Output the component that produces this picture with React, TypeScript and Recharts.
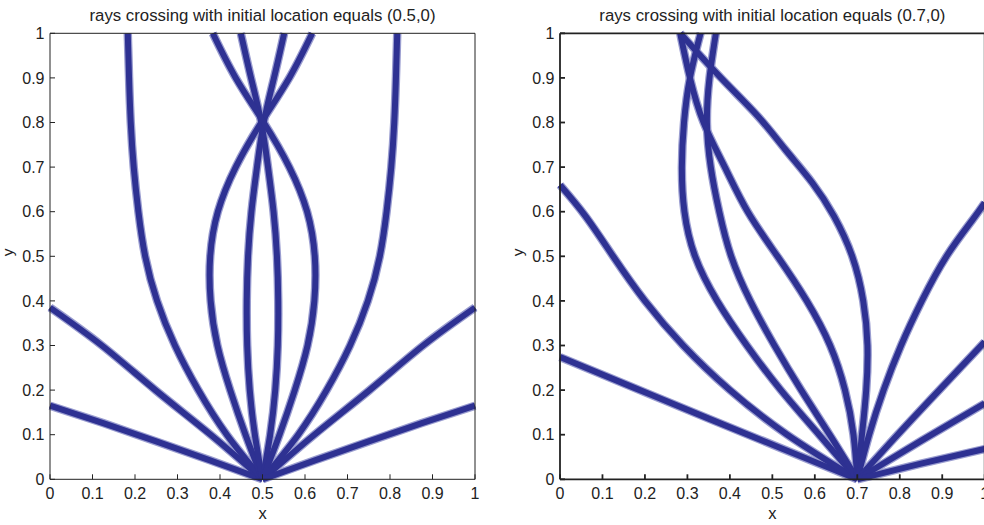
import React from 'react';
import { LineChart, Line, XAxis, YAxis } from 'recharts';

type Pt = { x: number; y: number };

const axisTicks = [0, 0.1, 0.2, 0.3, 0.4, 0.5, 0.6, 0.7, 0.8, 0.9, 1];
const leftTitle = 'rays crossing with initial location equals (0.5,0)';
const rightTitle = 'rays crossing with initial location equals (0.7,0)';

const p = (x: number, y: number): Pt => ({ x, y });

// Left panel: rays from (0.5, 0)
const leftRay1 = [p(0.5, 0), p(0.375, 0.043), p(0.25, 0.085), p(0.125, 0.126), p(0, 0.165)];
const leftRay2 = [p(0.5, 0), p(0.378, 0.1), p(0.248, 0.2), p(0.122, 0.3), p(0, 0.385)];
const leftRay3 = [p(0.5, 0), p(0.416, 0.1), p(0.349, 0.2), p(0.294, 0.3), p(0.252, 0.4), p(0.224, 0.5), p(0.208, 0.6), p(0.197, 0.7), p(0.19, 0.8), p(0.186, 0.9), p(0.183, 1)];
const leftRay4 = [p(0.5, 0), p(0.46, 0.1), p(0.424, 0.2), p(0.394, 0.3), p(0.378, 0.4), p(0.377, 0.5), p(0.395, 0.6), p(0.437, 0.7), p(0.497, 0.8), p(0.563, 0.9), p(0.617, 1)];
const leftRay5 = [p(0.5, 0), p(0.482, 0.1), p(0.47, 0.2), p(0.464, 0.3), p(0.463, 0.4), p(0.466, 0.5), p(0.474, 0.6), p(0.487, 0.7), p(0.503, 0.8), p(0.527, 0.9), p(0.551, 1)];
const leftRay6 = [p(0.5, 0), p(0.518, 0.1), p(0.53, 0.2), p(0.536, 0.3), p(0.537, 0.4), p(0.534, 0.5), p(0.526, 0.6), p(0.513, 0.7), p(0.497, 0.8), p(0.473, 0.9), p(0.449, 1)];
const leftRay7 = [p(0.5, 0), p(0.54, 0.1), p(0.576, 0.2), p(0.606, 0.3), p(0.622, 0.4), p(0.623, 0.5), p(0.605, 0.6), p(0.563, 0.7), p(0.503, 0.8), p(0.437, 0.9), p(0.383, 1)];
const leftRay8 = [p(0.5, 0), p(0.584, 0.1), p(0.651, 0.2), p(0.706, 0.3), p(0.748, 0.4), p(0.776, 0.5), p(0.792, 0.6), p(0.803, 0.7), p(0.81, 0.8), p(0.814, 0.9), p(0.817, 1)];
const leftRay9 = [p(0.5, 0), p(0.622, 0.1), p(0.752, 0.2), p(0.878, 0.3), p(1, 0.385)];
const leftRay10 = [p(0.5, 0), p(0.625, 0.043), p(0.75, 0.085), p(0.875, 0.126), p(1, 0.165)];

// Right panel: rays from (0.7, 0)
const rightRay1 = [p(0.7, 0), p(0.525, 0.068), p(0.35, 0.136), p(0.175, 0.205), p(0, 0.274)];
const rightRay2 = [p(0.7, 0), p(0.535, 0.1), p(0.4, 0.2), p(0.29, 0.3), p(0.2, 0.4), p(0.125, 0.5), p(0.06, 0.59), p(0, 0.66)];
const rightRay3 = [p(0.7, 0), p(0.61, 0.1), p(0.52, 0.2), p(0.44, 0.3), p(0.37, 0.4), p(0.318, 0.5), p(0.293, 0.6), p(0.287, 0.7), p(0.292, 0.8), p(0.306, 0.9), p(0.331, 1)];
const rightRay4 = [p(0.7, 0), p(0.635, 0.1), p(0.568, 0.2), p(0.505, 0.3), p(0.448, 0.4), p(0.403, 0.5), p(0.375, 0.6), p(0.355, 0.7), p(0.346, 0.8), p(0.352, 0.9), p(0.367, 1)];
const rightRay5 = [p(0.7, 0), p(0.691, 0.1), p(0.671, 0.2), p(0.636, 0.3), p(0.581, 0.4), p(0.512, 0.5), p(0.442, 0.6), p(0.388, 0.7), p(0.338, 0.8), p(0.306, 0.9), p(0.283, 1)];
const rightRay6 = [p(0.7, 0), p(0.711, 0.1), p(0.721, 0.2), p(0.724, 0.3), p(0.714, 0.4), p(0.688, 0.5), p(0.645, 0.59), p(0.594, 0.665), p(0.53, 0.74), p(0.465, 0.815), p(0.379, 0.9), p(0.283, 1)];
const rightRay7 = [p(0.7, 0), p(0.728, 0.1), p(0.762, 0.2), p(0.803, 0.3), p(0.852, 0.4), p(0.91, 0.5), p(0.97, 0.58), p(1, 0.62)];
const rightRay8 = [p(0.7, 0), p(0.795, 0.1), p(0.893, 0.2), p(1, 0.308)];
const rightRay9 = [p(0.7, 0), p(0.85, 0.086), p(1, 0.17)];
const rightRay10 = [p(0.7, 0), p(0.85, 0.035), p(1, 0.068)];

const leftRays = [leftRay1, leftRay2, leftRay3, leftRay4, leftRay5, leftRay6, leftRay7, leftRay8, leftRay9, leftRay10];
const rightRays = [rightRay1, rightRay2, rightRay3, rightRay4, rightRay5, rightRay6, rightRay7, rightRay8, rightRay9, rightRay10];

const INK = '#222';
const RAY_CORE = '#2e3192';
const RAY_EDGE = '#9a9dd0';

type PanelProps = {
  rays: Pt[][];
  title: string;
  width: number;
  marginLeft: number;
  marginRight: number;
  axisWidth: number;
  yLabelOffset: number;
};

function Panel({ rays, title, width, marginLeft, marginRight, axisWidth, yLabelOffset }: PanelProps) {
  return (
    <LineChart width={width} height={525} margin={{ top: 28.3, bottom: 17.7, left: marginLeft, right: marginRight }}>
      <XAxis
        xAxisId="b"
        type="number"
        dataKey="x"
        domain={[0, 1]}
        ticks={axisTicks}
        interval={0}
        orientation="bottom"
        height={28}
        tickSize={-5}
        tickMargin={13}
        stroke={INK}
        strokeWidth={axisWidth}
        fontSize={16}
        tick={{ fill: INK, fontSize: 16 }}
        label={{ value: 'x', position: 'bottom', offset: 0, fill: INK, fontSize: 16.5 }}
      />
      <XAxis
        xAxisId="t"
        type="number"
        dataKey="x"
        domain={[0, 1]}
        ticks={axisTicks}
        interval={0}
        orientation="top"
        height={5}
        tickSize={-5}
        tick={false}
        stroke={INK}
        strokeWidth={axisWidth}
        label={{ value: title, position: 'top', offset: 7, fill: INK, fontSize: 16.8 }}
      />
      <YAxis
        yAxisId="l"
        type="number"
        dataKey="y"
        domain={[0, 1]}
        ticks={axisTicks}
        interval={0}
        orientation="left"
        width={40}
        tickSize={-5}
        tickMargin={10.5}
        stroke={INK}
        strokeWidth={axisWidth}
        fontSize={16}
        tick={{ fill: INK, fontSize: 16 }}
        label={{ value: 'y', angle: -90, position: 'insideLeft', offset: yLabelOffset, fill: INK, fontSize: 15.5 }}
      />
      <YAxis
        yAxisId="r"
        type="number"
        dataKey="y"
        domain={[0, 1]}
        ticks={axisTicks}
        interval={0}
        orientation="right"
        width={5}
        tickSize={-5}
        tick={false}
        stroke={INK}
        strokeWidth={axisWidth}
      />
      {rays.map((r, i) => (
        <Line
          key={'edge' + i}
          data={r}
          xAxisId="b"
          yAxisId="l"
          dataKey="y"
          type="natural"
          stroke={RAY_EDGE}
          strokeWidth={8.5}
          dot={false}
          activeDot={false}
          isAnimationActive={false}
        />
      ))}
      {rays.map((r, i) => (
        <Line
          key={'core' + i}
          data={r}
          xAxisId="b"
          yAxisId="l"
          dataKey="y"
          type="natural"
          stroke={RAY_CORE}
          strokeWidth={6}
          dot={false}
          activeDot={false}
          isAnimationActive={false}
        />
      ))}
    </LineChart>
  );
}

export default function App() {
  return (
    <div
      style={{
        position: 'absolute',
        left: 0,
        top: 0,
        width: 984,
        height: 525,
        overflow: 'hidden',
        background: '#fff',
        fontFamily: '"Liberation Sans", Arial, Helvetica, sans-serif',
      }}
    >
      <div style={{ position: 'absolute', left: 0, top: 0 }}>
        <Panel rays={leftRays} title={leftTitle} width={490} marginLeft={10} marginRight={10} axisWidth={1} yLabelOffset={-2} />
      </div>
      <div style={{ position: 'absolute', left: 490, top: 0 }}>
        <Panel rays={rightRays} title={rightTitle} width={510} marginLeft={30} marginRight={10.3} axisWidth={1.8} yLabelOffset={-2} />
      </div>
    </div>
  );
}
